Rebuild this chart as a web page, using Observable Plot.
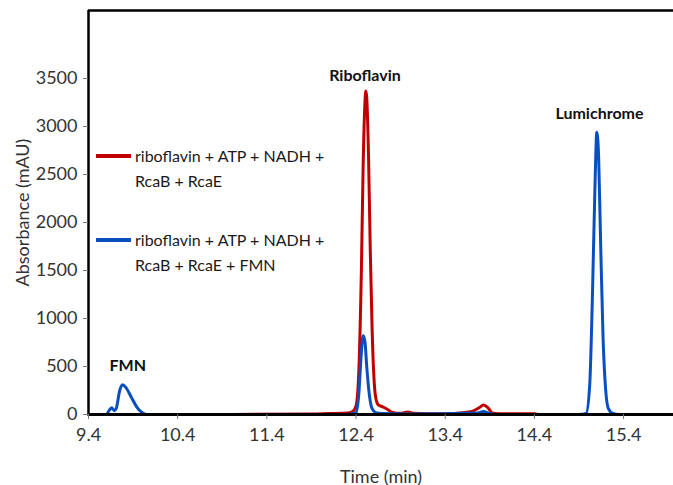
<!DOCTYPE html>
<html>
<head>
<meta charset="utf-8">
<script src="https://cdn.jsdelivr.net/npm/d3@7"></script>
<script src="https://cdn.jsdelivr.net/npm/@observablehq/plot@0.6"></script>
<style>
  html, body { margin: 0; padding: 0; background: #fff; }
  #wrap { position: relative; width: 673px; height: 485px; font-family: Lato, "Open Sans", sans-serif; }
  .legend { position: absolute; left: 96px; font-size: 16px; color: #1a1a1a; line-height: 25px; }
  .legend .item { position: relative; padding-left: 39px; }
  .legend .sw { position: absolute; left: 0; top: 11px; width: 35px; height: 4px; }
</style>
</head>
<body>
<div id="wrap"></div>
<script>
// Series: red = riboflavin + ATP + NADH + RcaB + RcaE
const redTime = [9.4, 10.0, 11.0, 11.9, 12.1, 12.3, 12.36, 12.4, 12.43, 12.46, 12.48, 12.5, 12.51, 12.52, 12.54, 12.56, 12.58, 12.6, 12.62, 12.65, 12.7, 12.75, 12.8, 12.9, 12.98, 13.05, 13.2, 13.4, 13.6, 13.7, 13.78, 13.83, 13.88, 13.93, 14.0, 14.4, 14.45, 16.0];
const redValue = [0, 0, 0, 5, 10, 15, 30, 90, 420, 1500, 2600, 3250, 3370, 3300, 2700, 1700, 900, 400, 180, 100, 80, 55, 25, 12, 25, 12, 8, 8, 18, 32, 70, 100, 70, 15, 8, 8, 0, 0];
// Series: blue = riboflavin + ATP + NADH + RcaB + RcaE + FMN
const blueTime = [9.4, 9.6, 9.63, 9.66, 9.69, 9.71, 9.75, 9.78, 9.82, 9.88, 9.94, 10.0, 10.05, 12.3, 12.4, 12.43, 12.46, 12.48, 12.5, 12.52, 12.55, 12.58, 12.62, 12.7, 13.0, 13.75, 13.83, 13.9, 14.0, 14.9, 14.98, 15.02, 15.05, 15.08, 15.1, 15.12, 15.14, 15.17, 15.2, 15.23, 15.28, 15.35, 16.0];
const blueValue = [0, 0, 40, 70, 40, 60, 250, 310, 280, 180, 80, 20, 0, 0, 20, 200, 650, 820, 760, 500, 200, 60, 20, 10, 5, 15, 30, 10, 0, 0, 10, 300, 1200, 2400, 2940, 2700, 1900, 800, 250, 60, 10, 0, 0];

const seriesNames = ["riboflavin + ATP + NADH + RcaB + RcaE", "riboflavin + ATP + NADH + RcaB + RcaE + FMN"];
const seriesColors = ["#c00000", "#0a4fc0"];
const legendLines = [["riboflavin + ATP + NADH +", "RcaB + RcaE"], ["riboflavin + ATP + NADH +", "RcaB + RcaE + FMN"]];

const peakNames = ["FMN", "Riboflavin", "Lumichrome"];
const peakTime = [9.84, 12.5, 15.13];
const peakLabelValue = [458, 3469, 3083];

const xTicks = [9.4, 10.4, 11.4, 12.4, 13.4, 14.4, 15.4];
const yTicks = [0, 500, 1000, 1500, 2000, 2500, 3000, 3500];
const xDomain = [9.4, 15.96];
const yDomain = [0, 4208];

const red = redTime.map((t, i) => ({t, v: redValue[i], s: seriesNames[0]}));
const blue = blueTime.map((t, i) => ({t, v: blueValue[i], s: seriesNames[1]}));
const peaks = peakNames.map((n, i) => ({n, t: peakTime[i], v: peakLabelValue[i]}));

const chart = Plot.plot({
  width: 673,
  height: 485,
  marginLeft: 88,
  marginTop: 10,
  marginRight: 0,
  marginBottom: 71,
  style: {fontFamily: "Lato, 'Open Sans', sans-serif", fontSize: "16px", color: "#333", background: "#fff", overflow: "visible"},
  x: {domain: xDomain},
  y: {domain: yDomain},
  color: {domain: seriesNames, range: seriesColors},
  marks: [
    Plot.line(red, {x: "t", y: "v", stroke: "s", strokeWidth: 3, curve: "monotone-x"}),
    Plot.line(blue, {x: "t", y: "v", stroke: "s", strokeWidth: 3, curve: "monotone-x"}),
    Plot.ruleY([yDomain[0]], {stroke: "#000", strokeWidth: 3}),
    Plot.ruleY([yDomain[1]], {stroke: "#000", strokeWidth: 2.5}),
    Plot.ruleX([xDomain[0]], {stroke: "#000", strokeWidth: 2.5}),
    Plot.axisX({ticks: xTicks, tickFormat: d3.format(".1f"), tickSize: 5, tickPadding: 9, stroke: "#777", fill: "#333", label: "Time (min)", labelArrow: false, labelAnchor: "center", labelOffset: 68, fontSize: 18}),
    Plot.axisY({ticks: yTicks, tickFormat: d => String(d), tickSize: 5, tickPadding: 6, stroke: "#777", fill: "#333", label: "Absorbance (mAU)", labelArrow: false, labelAnchor: "center", labelOffset: 72, fontSize: 18}),
    Plot.text(peaks, {x: "t", y: "v", text: "n", fontWeight: "bold", fontSize: 16, fill: "#111", lineAnchor: "bottom"})
  ]
});

const wrap = document.getElementById("wrap");
wrap.appendChild(chart);
const legend = document.createElement("div");
legend.className = "legend";
legend.style.top = "143px";
legendLines.forEach((lines, i) => {
  const item = document.createElement("div");
  item.className = "item";
  item.style.marginBottom = i === 0 ? "34px" : "0";
  const sw = document.createElement("span");
  sw.className = "sw";
  sw.style.background = seriesColors[i];
  item.appendChild(sw);
  lines.forEach(l => { const d = document.createElement("div"); d.textContent = l; item.appendChild(d); });
  legend.appendChild(item);
});
wrap.appendChild(legend);
</script>
</body>
</html>
